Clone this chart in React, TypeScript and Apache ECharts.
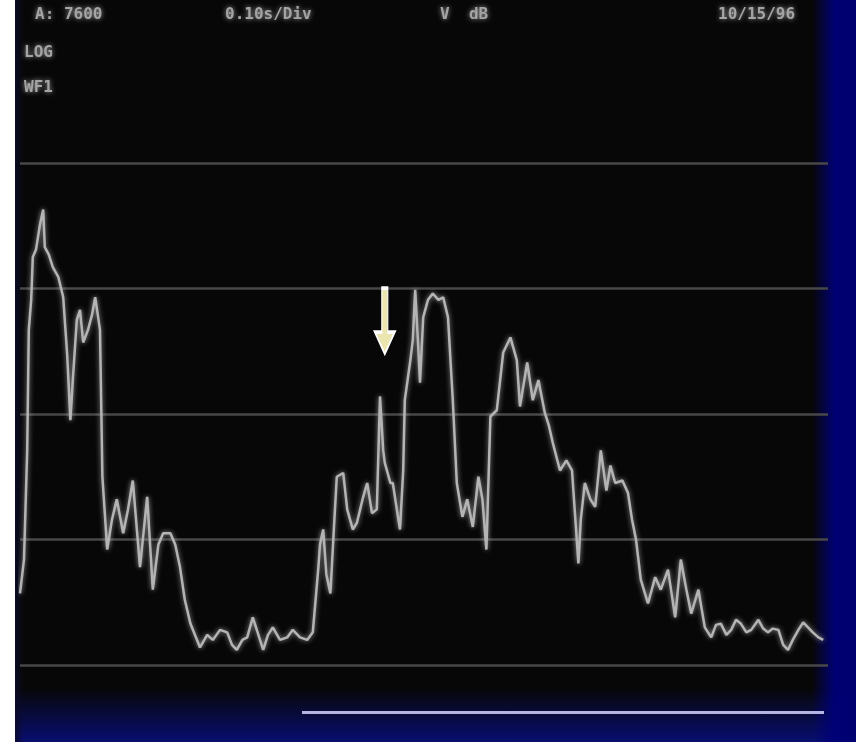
import React, { useEffect, useRef } from "react";
import * as echarts from "echarts";

// Trace samples: time (ms) and level (dB)
const timeMs = [
  0, 5, 9, 11, 14, 16, 20, 25, 29, 31, 36, 41, 48, 54, 59, 63, 66, 71, 75, 79,
  85, 90, 94, 100, 103, 109, 115, 121, 129, 135, 141, 150, 159, 166, 173, 179, 188, 194, 200, 206,
  213, 225, 234, 241, 250, 259, 265, 271, 278, 284, 291, 298, 304, 310, 316, 325, 334, 341, 350, 359,
  366, 373, 375, 379, 383, 388, 393, 396, 404, 409, 416, 421, 429, 434, 440, 446, 450, 454, 456, 463,
  466, 471, 475, 479, 481, 488, 491, 494, 498, 500, 504, 510, 516, 523, 529, 535, 541, 546, 553, 559,
  566, 573, 578, 583, 588, 596, 604, 613, 621, 625, 634, 641, 648, 656, 661, 666, 675, 683, 690, 698,
  701, 706, 713, 719, 726, 733, 738, 744, 753, 760, 765, 770, 776, 785, 794, 801, 810, 819, 826, 833,
  839, 848, 856, 864, 870, 876, 883, 889, 895, 901, 908, 914, 923, 929, 935, 941, 948, 954, 960, 966,
  973, 979, 985, 991, 998, 1004,
];
const levelDb = [
  5.7, 8.4, 17.1, 26.7, 29.1, 32.5, 33.1, 35.1, 36.3, 33.3, 32.7, 31.7, 30.9, 29.3, 24.7, 19.5, 22.7, 27.5, 28.3, 25.7,
  26.7, 27.9, 29.3, 26.7, 15.0, 9.2, 11.6, 13.2, 10.5, 12.4, 14.7, 7.8, 13.4, 6.0, 9.6, 10.5, 10.5, 9.6, 7.8, 5.2,
  3.3, 1.4, 2.4, 2.0, 2.8, 2.6, 1.6, 1.2, 2.0, 2.2, 3.8, 2.4, 1.2, 2.4, 3.0, 2.0, 2.2, 2.8, 2.2, 2.0,
  2.6, 7.8, 9.6, 10.8, 7.2, 5.7, 11.6, 15.0, 15.3, 12.4, 10.8, 11.3, 13.4, 14.5, 12.1, 12.4, 21.4, 17.1, 16.1, 14.5,
  14.5, 12.4, 10.8, 15.5, 21.1, 24.3, 25.9, 29.9, 25.1, 22.5, 27.7, 29.1, 29.6, 29.1, 29.3, 27.7, 21.1, 14.5, 11.8, 13.2,
  11.0, 15.0, 13.2, 9.2, 19.8, 20.3, 24.9, 26.1, 24.3, 20.6, 24.1, 21.1, 22.7, 20.1, 19.1, 17.7, 15.5, 16.3, 15.5, 8.1,
  11.6, 14.5, 13.2, 12.6, 17.1, 13.9, 15.9, 14.5, 14.7, 13.7, 11.6, 10.0, 6.8, 4.9, 7.0, 6.0, 7.6, 3.8, 8.4, 6.0,
  4.1, 6.0, 3.0, 2.2, 3.2, 3.3, 2.4, 2.8, 3.6, 3.3, 2.6, 2.8, 3.6, 2.9, 2.6, 2.9, 2.8, 1.6, 1.2, 2.0,
  2.8, 3.4, 3.0, 2.6, 2.2, 2.0,
];

// Marker arrow position (time, level)
const markerTime = 456;
const markerLevel = 27.4;

// Screen header texts
const headerLabels = ["A: 7600", "0.10s/Div", "V  dB", "10/15/96"];
const sideLabels = ["LOG", "WF1"];

const levelTicks = { min: 0, max: 40, interval: 10 };
const timeRange = { min: 0, max: 1010 };

const ARROW_PATH = "path://M7,0 L13,0 L13,44 L20,44 L10,66 L0,44 L7,44 Z";

export default function App() {
  const ref = useRef<HTMLDivElement>(null);

  useEffect(() => {
    if (!ref.current) return;
    const chart = echarts.init(ref.current, undefined, { renderer: "svg" });

    const label = (x: number, y: number, text: string) => ({
      type: "text",
      x,
      y,
      style: {
        text,
        fill: "#a4a4a4",
        font: "bold 16px 'DejaVu Sans Mono', monospace",
        textShadowColor: "rgba(170,170,170,0.9)",
        textShadowBlur: 5,
      },
    });

    chart.setOption({
      animation: false,
      backgroundColor: "transparent",
      grid: { left: 20, right: 28, top: 163, bottom: 77 },
      xAxis: {
        type: "value",
        min: timeRange.min,
        max: timeRange.max,
        show: false,
        splitLine: { show: false },
      },
      yAxis: {
        type: "value",
        min: levelTicks.min,
        max: levelTicks.max,
        interval: levelTicks.interval,
        axisLine: { show: false },
        axisTick: { show: false },
        axisLabel: { show: false },
        splitLine: { show: true, lineStyle: { color: "#484848", width: 2.5 } },
      },
      series: [
        {
          type: "line",
          data: timeMs.map((t, i) => [t, levelDb[i]]),
          showSymbol: false,
          lineStyle: {
            color: "#b4b4b4",
            width: 2.5,
            shadowColor: "rgba(190,190,190,0.8)",
            shadowBlur: 5,
          },
          markPoint: {
            symbol: ARROW_PATH,
            symbolSize: [20, 66],
            silent: true,
            label: { show: false },
            itemStyle: { color: "#ebe6b0", borderColor: "#ffffff", borderWidth: 2 },
            data: [{ coord: [markerTime, markerLevel] }],
          },
        },
      ],
      graphic: [
        label(35, 5, headerLabels[0]),
        label(225, 5, headerLabels[1]),
        label(440, 5, headerLabels[2]),
        label(718, 5, headerLabels[3]),
        label(24, 43, sideLabels[0]),
        label(24, 78, sideLabels[1]),
        {
          type: "rect",
          shape: { x: 302, y: 711, width: 522, height: 3 },
          style: { fill: "#b4b4e4" },
        },
      ],
    });

    return () => chart.dispose();
  }, []);

  return (
    <div
      style={{
        position: "fixed",
        left: 0,
        top: 0,
        width: 856,
        height: 742,
        background:
          "linear-gradient(to right, #ffffff 0px, #ffffff 15px, transparent 15px)," +
          "linear-gradient(to right, rgba(10,10,40,0.9) 15px, transparent 24px)," +
          "linear-gradient(to right, transparent 812px, rgba(0,0,120,0.95) 834px, #000070 856px)," +
          "linear-gradient(to bottom, transparent 688px, rgba(8,14,110,0.95) 738px, #0a0f6c 742px)," +
          "#070707",
      }}
    >
      <div ref={ref} style={{ width: 856, height: 742 }} />
    </div>
  );
}
